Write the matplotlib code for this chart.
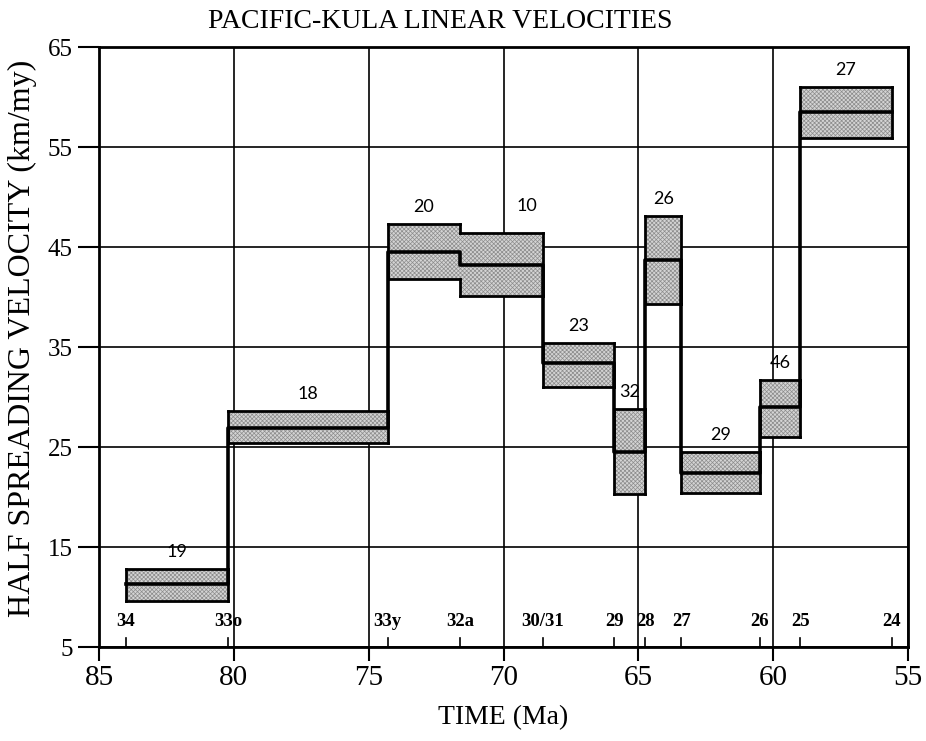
import matplotlib
matplotlib.use("Agg")
import matplotlib.pyplot as plt
from matplotlib.patches import Rectangle

# ---- data ----
chron_names = ['34', '33o', '33y', '32a', '30/31', '29', '28', '27', '26', '25', '24']
chron_ages = [84.0, 80.2, 74.3, 71.6, 68.55, 65.9, 64.75, 63.4, 60.5, 59.0, 55.6]

box_labels = ['19', '18', '20', '10', '23', '32', '26', '29', '46', '27']
vel_upper = [12.8, 28.6, 47.3, 46.4, 35.4, 28.8, 48.1, 24.5, 31.7, 61.0]
vel_mid = [11.3, 26.9, 44.5, 43.2, 33.4, 24.5, 43.7, 22.4, 29.0, 58.5]
vel_lower = [9.6, 25.4, 41.8, 40.1, 31.0, 20.3, 39.3, 20.4, 26.0, 55.9]

x_ticks = [85, 80, 75, 70, 65, 60, 55]
y_ticks = [5, 15, 25, 35, 45, 55, 65]

# ---- style ----
SERIF = 'Liberation Serif'
plt.rcParams['font.family'] = SERIF
plt.rcParams['hatch.linewidth'] = 0.5

fig = plt.figure(figsize=(9.26, 7.41), dpi=100)
ax = fig.add_axes([99 / 926, 94 / 741, 809 / 926, 600 / 741])
ax.set_xlim(85, 55)
ax.set_ylim(5, 65)

ax.set_xticks(x_ticks)
ax.set_yticks(y_ticks)
ax.tick_params(axis='x', direction='out', length=10, width=1.5, labelsize=21, pad=3)
ax.tick_params(axis='y', direction='out', length=15, width=1.5, labelsize=18, pad=4)
for s in ax.spines.values():
    s.set_linewidth(2.0)
ax.grid(True, color='black', linewidth=1.2)
ax.set_axisbelow(True)

# boxes (fill only)
n = len(box_labels)
for i in range(n):
    x0 = chron_ages[i + 1]
    w = chron_ages[i] - chron_ages[i + 1]
    ax.add_patch(Rectangle((x0, vel_lower[i]), w, vel_upper[i] - vel_lower[i],
                           facecolor='#d4d4d4', edgecolor='#8c8c8c', hatch='xxxxxxxx',
                           linewidth=0, zorder=3))

OUT_LW = 2.0
# box outlines: top/bottom edges
for i in range(n):
    for v in (vel_upper[i], vel_lower[i]):
        ax.plot([chron_ages[i], chron_ages[i + 1]], [v, v], color='black', lw=OUT_LW,
                zorder=4, solid_capstyle='projecting')


def vseg(x, a, b):
    ax.plot([x, x], [a, b], color='black', lw=OUT_LW, zorder=4, solid_capstyle='projecting')


# vertical edges: outer edges, and symmetric difference at shared boundaries
vseg(chron_ages[0], vel_lower[0], vel_upper[0])
vseg(chron_ages[-1], vel_lower[-1], vel_upper[-1])
for i in range(n - 1):
    xb = chron_ages[i + 1]
    a0, a1 = vel_lower[i], vel_upper[i]
    b0, b1 = vel_lower[i + 1], vel_upper[i + 1]
    lo, hi = max(a0, b0), min(a1, b1)
    if lo >= hi:
        vseg(xb, a0, a1)
        vseg(xb, b0, b1)
    else:
        if a0 != b0:
            vseg(xb, min(a0, b0), lo)
        if a1 != b1:
            vseg(xb, hi, max(a1, b1))

# velocity step line
sx, sy = [], []
for i in range(n):
    sx += [chron_ages[i], chron_ages[i + 1]]
    sy += [vel_mid[i], vel_mid[i]]
ax.plot(sx, sy, color='black', lw=2.6, zorder=5)

# box labels
label_shift = {'10': (-0.95, 1.0)}
for i in range(n):
    cx = (chron_ages[i] + chron_ages[i + 1]) / 2
    dx, dy = label_shift.get(box_labels[i], (0, 0))
    ax.text(cx + dx, vel_upper[i] + 1.7 + dy, box_labels[i], ha='center', va='center',
            fontsize=13, family='Lato', zorder=6)

# chron ticks and labels along bottom
for name, age in zip(chron_names, chron_ages):
    ax.plot([age, age], [5, 5.9], color='black', lw=1.2, zorder=4)
    ax.text(age, 7.6, name, ha='center', va='center', fontsize=13.5,
            fontweight='bold', zorder=6)

fig.text(440 / 926, 1 - 22 / 741, 'PACIFIC-KULA LINEAR VELOCITIES', ha='center',
         va='center', fontsize=20)
fig.text(503 / 926, 1 - 718 / 741, 'TIME (Ma)', ha='center', va='center', fontsize=20)
fig.text(22 / 926, 1 - 338 / 741, 'HALF SPREADING VELOCITY (km/my)', ha='center',
         va='center', rotation=90, fontsize=23)

fig.savefig('out.png', dpi=100, facecolor='white')
